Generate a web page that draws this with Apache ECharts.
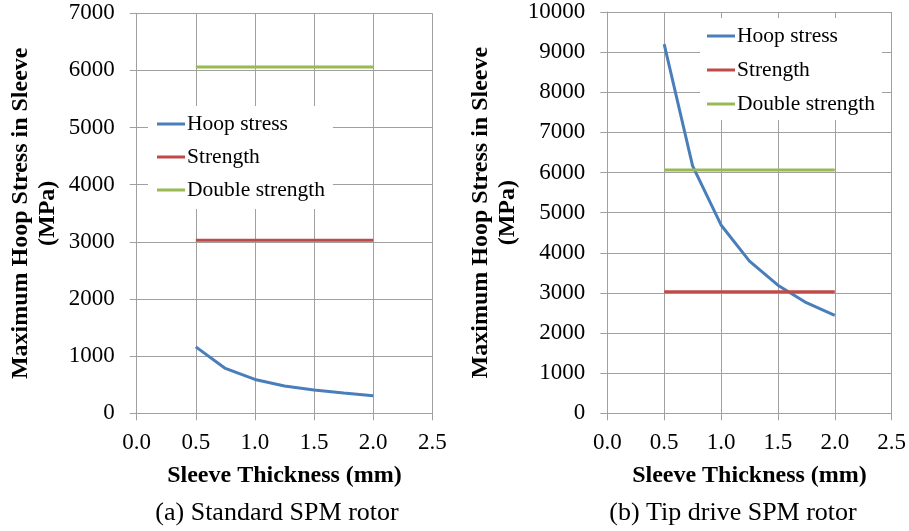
<!DOCTYPE html>
<html>
<head>
<meta charset="utf-8">
<script src="https://cdn.jsdelivr.net/npm/echarts@6/dist/echarts.min.js"></script>
<style>
html,body{margin:0;padding:0;background:#fff;}
#chart{width:909px;height:531px;}
</style>
</head>
<body>
<div id="chart"></div>
<script>
// ---- data ----
var thickness = [0.5, 0.75, 1.0, 1.25, 1.5, 1.75, 2.0];
var hoopStandard = [1163, 785, 593, 477, 407, 355, 308];
var hoopTipDrive = [9200, 6167, 4693, 3791, 3193, 2755, 2443];
var strength = [3030, 3030, 3030, 3030, 3030, 3030, 3030];
var doubleStrength = [6060, 6060, 6060, 6060, 6060, 6060, 6060];
var seriesNames = ['Hoop stress', 'Strength', 'Double strength'];
var xAxisTitle = 'Sleeve Thickness (mm)';
var yAxisTitle = 'Maximum Hoop Stress in Sleeve\n(MPa)';
var captions = ['(a) Standard SPM rotor', '(b) Tip drive SPM rotor'];

var colors = ['#4a7ebb', '#be4b48', '#98b954'];
var FONT = '"Liberation Serif", "Times New Roman", serif';
var GRID_COLOR = '#a0a0a0';

function pairs(xs, ys) { return xs.map(function (x, i) { return [x, ys[i]]; }); }

function xAxisCfg(idx, nameGap) {
  return {
    gridIndex: idx, type: 'value', min: 0, max: 2.5, interval: 0.5,
    name: xAxisTitle, nameLocation: 'middle', nameGap: nameGap,
    nameTextStyle: { fontFamily: FONT, fontWeight: 'bold', fontSize: 24, color: '#000', lineHeight: 24 },
    axisLine: { show: true, lineStyle: { color: GRID_COLOR, width: 1 } },
    axisTick: { show: true, inside: false, length: 7, lineStyle: { color: GRID_COLOR } },
    axisLabel: { fontFamily: FONT, fontSize: 23, color: '#000', margin: 18, lineHeight: 23,
      formatter: function (v) { return v.toFixed(1); } },
    splitLine: { show: true, lineStyle: { color: GRID_COLOR, width: 1 } }
  };
}
function yAxisCfg(idx, max, nameGap) {
  return {
    gridIndex: idx, type: 'value', min: 0, max: max, interval: 1000,
    name: yAxisTitle, nameLocation: 'middle', nameGap: nameGap,
    nameTextStyle: { fontFamily: FONT, fontWeight: 'bold', fontSize: 24, color: '#000', lineHeight: 27 },
    axisLine: { show: true, lineStyle: { color: GRID_COLOR, width: 1 } },
    axisTick: { show: true, inside: false, length: 7, lineStyle: { color: GRID_COLOR } },
    axisLabel: { fontFamily: FONT, fontSize: 23, color: '#000', margin: 22,
      formatter: function (v) { return String(v); } },
    splitLine: { show: true, lineStyle: { color: GRID_COLOR, width: 1 } }
  };
}
function lineSeries(name, idx, ys, color) {
  return {
    name: name, type: 'line', xAxisIndex: idx, yAxisIndex: idx,
    data: pairs(thickness, ys), symbol: 'none', smooth: false,
    lineStyle: { color: color, width: 3 }, itemStyle: { color: color },
    animation: false, z: 3
  };
}
function legendCfg(left, top, padding, gap) {
  return {
    orient: 'vertical', left: left, top: top, padding: padding,
    backgroundColor: '#fff', itemWidth: 28, itemHeight: 3, itemGap: gap,
    icon: 'rect',
    data: seriesNames, selectedMode: false,
    textStyle: { fontFamily: FONT, fontSize: 21.5, color: '#000', lineHeight: 22, padding: [0, 0, 0, -3] },
    z: 10
  };
}

var chart = echarts.init(document.getElementById('chart'), null, { renderer: 'canvas' });
chart.setOption({
  animation: false,
  backgroundColor: '#fff',
  color: colors,
  grid: [
    { left: 136.7, top: 13.3, width: 295.6, height: 400, containLabel: false },
    { left: 607.3, top: 12, width: 285, height: 401.3, containLabel: false }
  ],
  xAxis: [xAxisCfg(0, 50), xAxisCfg(1, 50)],
  yAxis: [yAxisCfg(0, 7000, 75), yAxisCfg(1, 10000, 86)],
  legend: [
    legendCfg(148, 106, [7, 8, 8, 9], 11),
    legendCfg(700, 18, [7, 7, 5, 7], 12)
  ],
  series: [
    lineSeries(seriesNames[0], 0, hoopStandard, colors[0]),
    lineSeries(seriesNames[1], 0, strength, colors[1]),
    lineSeries(seriesNames[2], 0, doubleStrength, colors[2]),
    lineSeries(seriesNames[0], 1, hoopTipDrive, colors[0]),
    lineSeries(seriesNames[1], 1, strength, colors[1]),
    lineSeries(seriesNames[2], 1, doubleStrength, colors[2])
  ],
  graphic: [
    { type: 'text', x: 277, y: 513,
      style: { text: captions[0], font: '26px ' + FONT, fill: '#000', textAlign: 'center', textVerticalAlign: 'middle' } },
    { type: 'text', x: 733, y: 513,
      style: { text: captions[1], font: '26px ' + FONT, fill: '#000', textAlign: 'center', textVerticalAlign: 'middle' } }
  ]
});
</script>
</body>
</html>
